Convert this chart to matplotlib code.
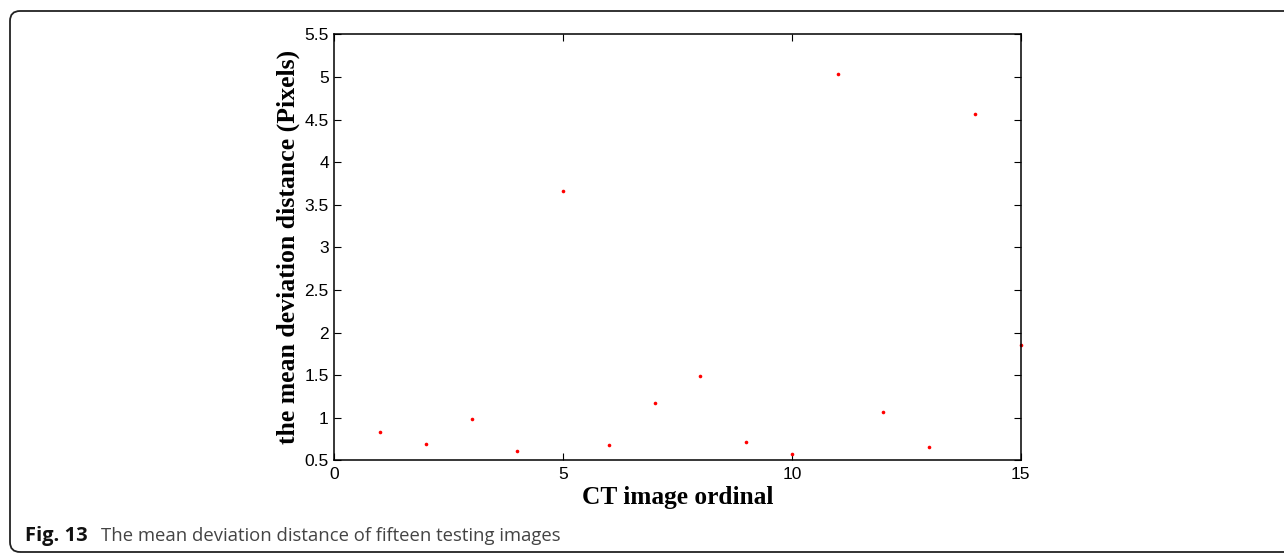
import matplotlib.pyplot as plt
from matplotlib.patches import FancyBboxPatch
from matplotlib.transforms import IdentityTransform

# image index and mean deviation distance (pixels)
ordinal = [1, 2, 3, 4, 5, 6, 7, 8, 9, 10, 11, 12, 13, 14, 15]
deviation = [0.83, 0.69, 0.99, 0.61, 3.66, 0.68, 1.17, 1.49, 0.71, 0.58,
             5.03, 1.07, 0.66, 4.56, 1.85]

xticks = [0, 5, 10, 15]
yticks = [0.5, 1, 1.5, 2, 2.5, 3, 3.5, 4, 4.5, 5, 5.5]
ylabels = ['0.5', '1', '1.5', '2', '2.5', '3', '3.5', '4', '4.5', '5', '5.5']

fig = plt.figure(figsize=(12.84, 5.55), dpi=100)
ax = fig.add_axes([0.2604, 0.1706, 0.5346, 0.7676])

ax.plot(ordinal, deviation, 'o', color='red', markersize=2.6,
        markeredgewidth=0, clip_on=False)

ax.set_xlim(0, 15)
ax.set_ylim(0.5, 5.5)
ax.set_xticks(xticks)
ax.set_yticks(yticks)
ax.set_yticklabels(ylabels)
ax.tick_params(direction='in', top=True, right=True, length=5, width=0.8,
               labelsize=12.5)
ax.tick_params(axis='x', pad=5)
ax.tick_params(axis='y', pad=4)
for lab in ax.get_xticklabels() + ax.get_yticklabels():
    lab.set_family('Liberation Sans')
for s in ax.spines.values():
    s.set_linewidth(1.1)

ax.set_xlabel('CT image ordinal', family='Liberation Serif', fontweight='bold',
              fontsize=18.3, labelpad=3)
ax.set_ylabel('the mean deviation distance (Pixels)', family='Liberation Serif',
              fontweight='bold', fontsize=18.5, labelpad=3)

# rounded frame around the figure
frame = FancyBboxPatch((10, 3), 1320, 541, boxstyle='round,pad=0,rounding_size=10',
                       transform=IdentityTransform(), fill=False,
                       edgecolor='#222222', linewidth=1.3)
fig.patches.append(frame)

fig.text(25, 14, 'Fig. 13', transform=IdentityTransform(), family='Open Sans',
         fontweight='bold', fontsize=14.5, color='#111111', va='baseline')
fig.text(101, 14, 'The mean deviation distance of fifteen testing images',
         transform=IdentityTransform(), family='Open Sans', fontsize=13.3,
         color='#444444', va='baseline')

fig.savefig('out.png', dpi=100)
